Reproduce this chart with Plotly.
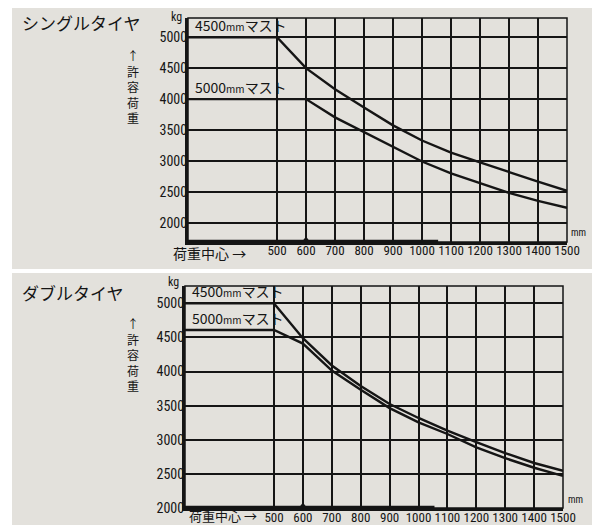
import plotly.graph_objects as go

# ---------------- data ----------------
load_center = [500, 600, 700, 800, 900, 1000, 1100, 1200, 1300, 1400, 1500]   # mm
y_ticks = [2000, 2500, 3000, 3500, 4000, 4500, 5000]                           # kg

single_4500 = [5000, 4500, 4160, 3865, 3575, 3330, 3135, 2975, 2815, 2665, 2515]
single_5000 = [4000, 4000, 3705, 3470, 3230, 2990, 2800, 2636, 2484, 2352, 2242]
double_4500 = [5000, 4490, 4090, 3790, 3525, 3320, 3135, 2965, 2805, 2660, 2545]
double_5000 = [4610, 4410, 4015, 3735, 3465, 3255, 3085, 2890, 2730, 2590, 2470]

standard_center = [600]   # reference load centre marked on the axis

panel_titles = ["シングルタイヤ", "ダブルタイヤ"]
mast_labels = ["4500<span style='font-size:10px'>mm</span>マスト",
               "5000<span style='font-size:10px'>mm</span>マスト"]
y_title = "↑<br>許<br>容<br>荷<br>重"
x_title = "荷重中心 →"

# ---------------- style / layout helpers ----------------
NUM_FONT = "Liberation Sans Narrow, Roboto Condensed, Liberation Sans, sans-serif"
JP_FONT = "Noto Sans CJK JP, sans-serif"
INK = "#151515"
BEIGE = "#e3e1dc"
W, H = 592, 517
OFF = 8  # page body margin


def px(x):
    return (x - OFF) / W


def py(y):
    return 1 - (y - OFF) / H


fig = go.Figure()


def with_flat(vals):
    # capacity stays constant for load centres shorter than the first one
    return [0] + load_center, [vals[0]] + vals


panels = [
    dict(xa="x", ya="y", series=[single_4500, single_5000]),
    dict(xa="x2", ya="y2", series=[double_4500, double_5000]),
]

yranges = [[1688, 5312], [2000, 5255]]

for p, yr in zip(panels, yranges):
    for s in p["series"]:
        xs, ys = with_flat(s)
        fig.add_trace(go.Scatter(x=xs, y=ys, mode="lines", xaxis=p["xa"], yaxis=p["ya"],
                                 line=dict(color=INK, width=2.4), showlegend=False,
                                 hoverinfo="skip"))
    fig.add_trace(go.Scatter(x=standard_center, y=[yr[0]] * len(standard_center), mode="markers",
                             xaxis=p["xa"], yaxis=p["ya"], cliponaxis=False,
                             marker=dict(symbol="triangle-up", size=11, color=INK),
                             showlegend=False, hoverinfo="skip"))

common_x = dict(tickvals=load_center, showgrid=True, gridcolor=INK, gridwidth=1.5,
                zeroline=False, showline=True, linecolor=INK, linewidth=3,
                ticks="", tickangle=0, automargin=False,
                tickfont=dict(family=NUM_FONT, size=13, color=INK))
common_y = dict(tickvals=y_ticks, showgrid=True, gridcolor=INK, gridwidth=1.5,
                zeroline=False, showline=True, linecolor=INK, linewidth=3,
                ticks="", automargin=False, ticklabelstandoff=-5,
                tickfont=dict(family=NUM_FONT, size=14, color=INK))

fig.update_layout(
    width=W, height=H,
    margin=dict(l=0, r=0, t=0, b=0, autoexpand=False),
    paper_bgcolor="white", plot_bgcolor="white",
    xaxis=dict(domain=[px(188), px(567)], range=[193, 1500], anchor="y",
               ticklabelstandoff=-6, **common_x),
    yaxis=dict(domain=[py(242), py(18)], range=yranges[0], anchor="x", **common_y),
    xaxis2=dict(domain=[px(185), px(563)], range=[192, 1500], anchor="y2",
                ticklabelstandoff=-5, **common_x),
    yaxis2=dict(domain=[py(508), py(286)], range=yranges[1], anchor="x2", **common_y),
)

# beige page panels
shapes = [
    dict(type="rect", xref="paper", yref="paper", x0=px(12), x1=px(593),
         y0=py(269), y1=1.0, fillcolor=BEIGE, line=dict(width=0), layer="below"),
    dict(type="rect", xref="paper", yref="paper", x0=px(12), x1=px(593),
         y0=0, y1=py(273), fillcolor=BEIGE, line=dict(width=0), layer="below"),
]
for xa, ya in [("x", "y"), ("x2", "y2")]:
    shapes.append(dict(type="rect", xref=f"{xa} domain", yref=f"{ya} domain",
                       x0=0, x1=1, y0=0, y1=1, line=dict(color=INK, width=1.5)))
    shapes.append(dict(type="line", xref=f"{xa} domain", yref=f"{ya} domain",
                       x0=0, x1=0.66, y0=0, y1=0, line=dict(color=INK, width=4.5),
                       layer="below"))
fig.update_layout(shapes=shapes)

ann = []
# panel titles
ann.append(dict(text=panel_titles[0], x=px(20), y=py(23), xref="paper", yref="paper",
                xanchor="left", yanchor="middle", showarrow=False,
                font=dict(family=JP_FONT, size=17, color=INK)))
ann.append(dict(text=panel_titles[1], x=px(20), y=py(292), xref="paper", yref="paper",
                xanchor="left", yanchor="middle", showarrow=False,
                font=dict(family=JP_FONT, size=17, color=INK)))
# vertical y titles
for yc in [py(86), py(354)]:
    ann.append(dict(text=y_title, x=px(133), y=yc, xref="paper", yref="paper",
                    xanchor="center", yanchor="middle", showarrow=False,
                    font=dict(family=JP_FONT, size=12, color=INK)))
# kg / mm units
ann.append(dict(text="kg", x=px(184), y=py(17), xref="paper", yref="paper",
                xanchor="right", yanchor="middle", showarrow=False,
                font=dict(family=NUM_FONT, size=12, color=INK)))
ann.append(dict(text="kg", x=px(181), y=py(282), xref="paper", yref="paper",
                xanchor="right", yanchor="middle", showarrow=False,
                font=dict(family=NUM_FONT, size=12, color=INK)))
ann.append(dict(text="mm", x=px(578), y=py(232), xref="paper", yref="paper",
                xanchor="center", yanchor="middle", showarrow=False,
                font=dict(family=NUM_FONT, size=10, color=INK)))
ann.append(dict(text="mm", x=px(575), y=py(499), xref="paper", yref="paper",
                xanchor="center", yanchor="middle", showarrow=False,
                font=dict(family=NUM_FONT, size=10, color=INK)))
# x titles
ann.append(dict(text=x_title, x=px(248), y=py(253), xref="paper", yref="paper",
                xanchor="right", yanchor="middle", showarrow=False,
                font=dict(family=JP_FONT, size=14, color=INK)))
ann.append(dict(text=x_title, x=px(259), y=py(515), xref="paper", yref="paper",
                xanchor="right", yanchor="middle", showarrow=False,
                font=dict(family=JP_FONT, size=13, color=INK)))
# mast labels
mast_levels = [(single_4500[0], single_5000[0], "x", "y"), (double_4500[0], double_5000[0], "x2", "y2")]
for lv1, lv2, xa, ya in mast_levels:
    for lab, lv in zip(mast_labels, [lv1, lv2]):
        ann.append(dict(text=lab, x=0.012, y=lv, xref=f"{xa} domain", yref=ya,
                        xanchor="left", yanchor="bottom", showarrow=False,
                        font=dict(family=JP_FONT, size=14, color=INK)))
fig.update_layout(annotations=ann)

fig.write_html("out.html")
